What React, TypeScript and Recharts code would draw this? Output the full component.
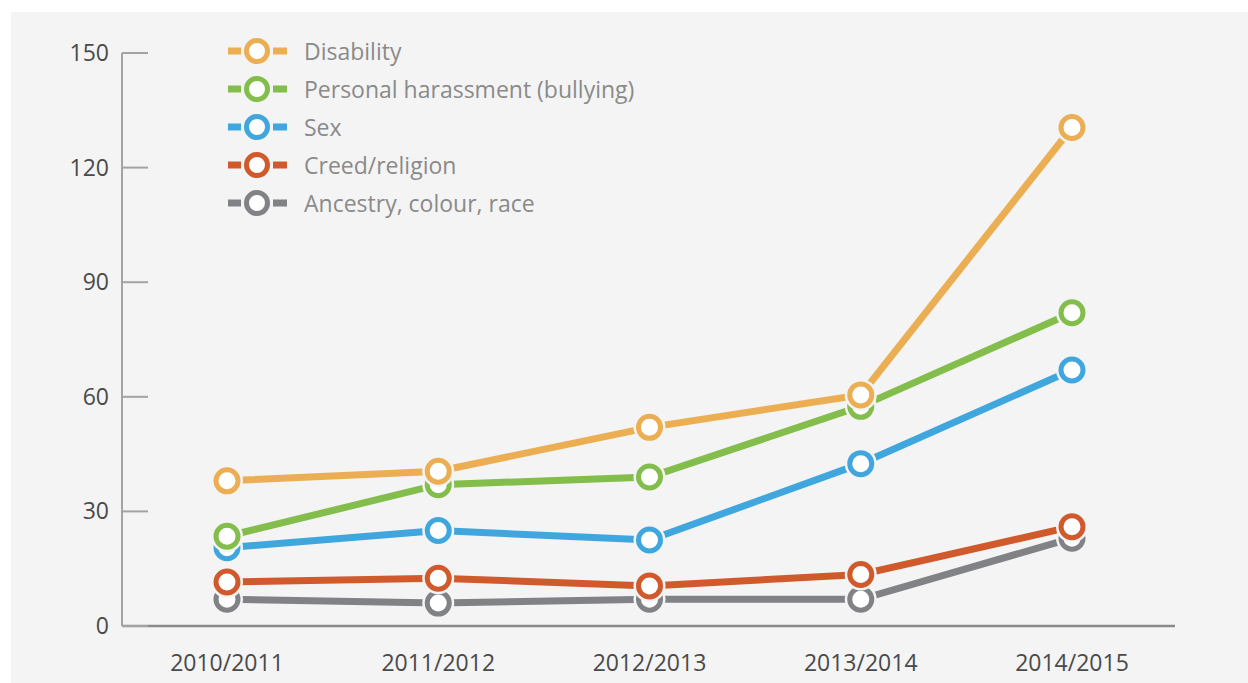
import React from 'react';
import { LineChart, Line, XAxis, YAxis, Legend } from 'recharts';

const years = ['2010/2011', '2011/2012', '2012/2013', '2013/2014', '2014/2015'];
const disability = [38, 40.5, 52, 60.5, 130.5];
const harassment = [23.5, 37, 39, 57.5, 82];
const sex = [20.5, 25, 22.5, 42.5, 67];
const creed = [11.5, 12.5, 10.5, 13.5, 26];
const ancestry = [7, 6, 7, 7, 23];
const yTicks = [0, 30, 60, 90, 120, 150];

const series = [
  { key: 'ancestry', name: 'Ancestry, colour, race', values: ancestry, color: '#818285' },
  { key: 'creed', name: 'Creed/religion', values: creed, color: '#D15A2C' },
  { key: 'sex', name: 'Sex', values: sex, color: '#3FA7DE' },
  { key: 'harassment', name: 'Personal harassment (bullying)', values: harassment, color: '#83BD4C' },
  { key: 'disability', name: 'Disability', values: disability, color: '#EBAE53' },
];

// legend lists them top-down in the opposite order of drawing
const legendOrder = ['disability', 'harassment', 'sex', 'creed', 'ancestry'];

const data = years.map((year, i) => {
  const row: Record<string, string | number> = { year };
  series.forEach(s => { row[s.key] = s.values[i]; });
  return row;
});

const BG = '#f4f4f4';
const FONT = '"Open Sans", "Noto Sans", sans-serif';

const makeDot = (color: string) => (props: any) => {
  const { cx, cy, index } = props;
  if (cx == null || cy == null) return <g key={`d-${index}`} />;
  return (
    <g key={`d-${index}`}>
      <circle cx={cx} cy={cy} r={16} fill={BG} />
      <circle cx={cx} cy={cy} r={11} fill="#fff" stroke={color} strokeWidth={5} />
    </g>
  );
};

const YTick = (props: any) => {
  const { x, y, payload } = props;
  return (
    <g>
      <line x1={x} x2={x + 26} y1={y} y2={y} stroke="#a3a3a3" strokeWidth={2} />
      <text x={x - 13} y={y} dy={8} textAnchor="end" fill="#4a4a4a" fontSize={23} fontFamily={FONT}>
        {payload.value}
      </text>
    </g>
  );
};

const XTick = (props: any) => {
  const { x, y, payload } = props;
  return (
    <text x={x} y={y} dy={37} textAnchor="middle" fill="#4a4a4a" fontSize={23} fontFamily={FONT}>
      {payload.value}
    </text>
  );
};

const LegendBox = () => (
  <div style={{ fontFamily: FONT }}>
    {legendOrder.map(k => {
      const s = series.find(d => d.key === k)!;
      return (
        <div key={k} style={{ display: 'flex', alignItems: 'center', height: 38 }}>
          <svg width={60} height={30} style={{ display: 'block' }}>
            <rect x={0} y={11.5} width={13} height={7} fill={s.color} />
            <rect x={45} y={11.5} width={14} height={7} fill={s.color} />
            <circle cx={29} cy={15} r={10.5} fill="#fff" stroke={s.color} strokeWidth={5} />
          </svg>
          <span style={{ marginLeft: 16, fontSize: 23, color: '#8a8a8a', whiteSpace: 'nowrap' }}>{s.name}</span>
        </div>
      );
    })}
  </div>
);

export default function App() {
  return (
    <div style={{ position: 'absolute', left: 0, top: 0, width: 1248, height: 683, background: '#fff' }}>
      <div style={{ position: 'absolute', left: 11, top: 12, width: 1237, height: 671, background: BG }}>
        <LineChart
          width={1237}
          height={671}
          data={data}
          margin={{ top: 41, right: 73, bottom: 27, left: 51 }}
        >
          <XAxis
            dataKey="year"
            padding={{ left: 105, right: 103 }}
            axisLine={{ stroke: '#8a8a8a', strokeWidth: 2.5 }}
            tickLine={false}
            tick={<XTick />}
            height={30}
          />
          <YAxis
            domain={[0, 150]}
            ticks={yTicks}
            width={60}
            axisLine={{ stroke: '#a3a3a3', strokeWidth: 2 }}
            tickLine={false}
            tickSize={0}
            tickMargin={0}
            tick={<YTick />}
          />
          <Legend
            layout="vertical"
            align="center"
            verticalAlign="middle"
            content={<LegendBox />}
            wrapperStyle={{ position: 'absolute', top: 20, left: 217, width: 'auto', height: 'auto' }}
          />
          {series.map(s => (
            <Line
              key={s.key}
              dataKey={s.key}
              name={s.name}
              type="linear"
              stroke={s.color}
              strokeWidth={7}
              dot={makeDot(s.color)}
              activeDot={false}
              isAnimationActive={false}
            />
          ))}
        </LineChart>
      </div>
    </div>
  );
}
